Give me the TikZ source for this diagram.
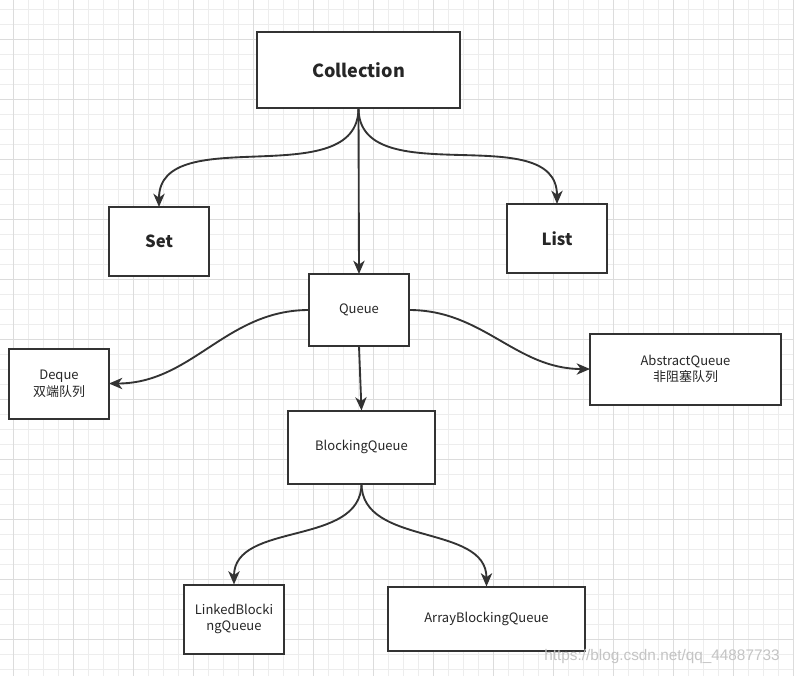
\documentclass[tikz,border=0pt]{standalone}
\usepackage{fontspec}
\setmainfont{Noto Sans CJK SC}
\newfontfamily\wmfont{Liberation Sans}
\usepackage{tikz}
\usetikzlibrary{arrows.meta}
\definecolor{dkline}{HTML}{333333}
\definecolor{dktext}{HTML}{262626}
\definecolor{gridlo}{HTML}{EDEDED}
\definecolor{gridhi}{HTML}{DCDCDC}
\definecolor{wmgray}{HTML}{C4C4C4}

\begin{document}
\begin{tikzpicture}[x=0.75pt,y=-0.75pt,font=\fontsize{9.75}{12.5}\selectfont,
 cbox/.style={draw=dkline,line width=1.5pt,fill=white,outer sep=0pt,
  inner sep=2pt,align=center,text=dktext},
 title/.style={font=\fontsize{13.5}{16}\selectfont\bfseries},
 link/.style={draw=dkline,line width=1.4pt,
  -{Stealth[length=10pt,width=8.5pt,inset=3pt]}}]
\useasboundingbox (0,0) rectangle (794,676);
\fill[white] (0,0) rectangle (794,676);
% background grid, 15px cells and a darker line every 60px
\foreach \x in {13,28,...,793} \draw[gridlo,line width=0.6pt] (\x,0) -- (\x,676);
\foreach \y in {9,24,...,675} \draw[gridlo,line width=0.6pt] (0,\y) -- (794,\y);
\foreach \x in {13,73,...,793} \draw[gridhi,line width=0.6pt] (\x,0) -- (\x,676);
\foreach \y in {39,99,...,675} \draw[gridhi,line width=0.6pt] (0,\y) -- (794,\y);

\node[cbox,title,minimum width=152.25pt,minimum height=57pt] (coll) at (358.5,70) {Collection};
\node[cbox,title,font=\fontsize{12.5}{15}\selectfont\bfseries,minimum width=75pt,minimum height=51.75pt] (set) at (159,241.5) {Set};
\node[cbox,title,font=\fontsize{12.5}{15}\selectfont\bfseries,minimum width=75pt,minimum height=51.75pt] (list) at (557,238.5) {List};
\node[cbox,minimum width=75pt,minimum height=54pt] (queue) at (359,310) {Queue};
\node[cbox,minimum width=75pt,minimum height=52.5pt] (deque) at (59,383.5) {Deque\\双端队列};
\node[cbox,minimum width=143.25pt,minimum height=53.25pt] (absq) at (685.5,369) {AbstractQueue\\非阻塞队列};
\node[cbox,minimum width=110.25pt,minimum height=54.75pt] (blockq) at (361.5,447) {BlockingQueue};
\node[cbox,minimum width=75pt,minimum height=51.75pt] (linkedq) at (234,619) {LinkedBlocki\\ngQueue};
\node[cbox,minimum width=147.75pt,minimum height=48pt] (arrayq) at (486.5,618.5) {ArrayBlockingQueue};

\draw[link] (coll.south) to[out=-90,in=90] (set.north);
\draw[link] (coll.south) to[out=-90,in=90] (list.north);
\draw[link] (coll.south) -- (queue.north);
\draw[link] (queue.west) to[out=180,in=0] (deque.east);
\draw[link] (queue.east) to[out=0,in=180] (absq.west);
\draw[link] (queue.south) -- (blockq.north);
\draw[link] (blockq.south) to[out=-90,in=90] (linkedq.north);
\draw[link] (blockq.south) to[out=-90,in=90] (arrayq.north);

\node[text=wmgray,font=\wmfont\fontsize{11.5}{13}\selectfont] (wmark) at (662,657) {https://blog.csdn.net/qq\_44887733};
\end{tikzpicture}
\end{document}
